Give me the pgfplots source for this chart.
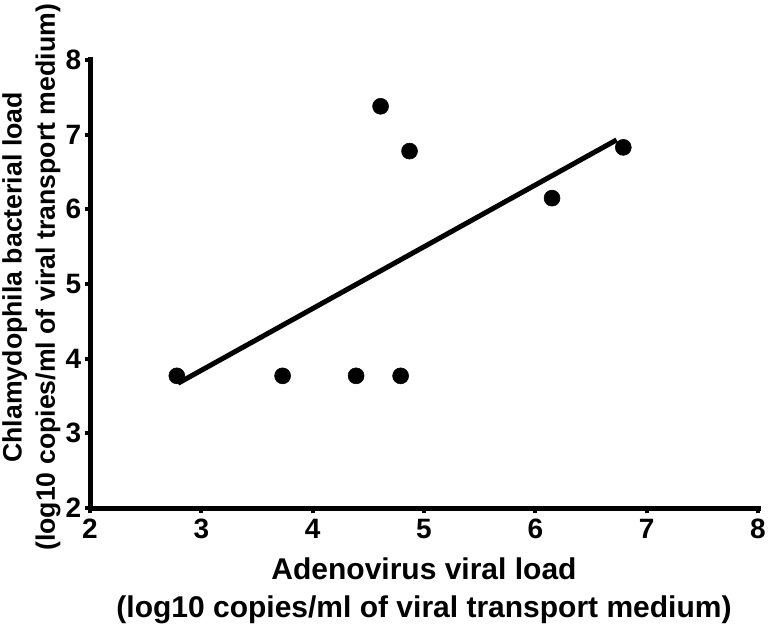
\documentclass[border=0pt]{standalone}
\usepackage{fontspec}
\setmainfont{Liberation Sans}
\usepackage{pgfplots}
\pgfplotsset{compat=1.18}

\begin{document}
\begin{tikzpicture}
  \begin{axis}[
      scale only axis,
      width=501pt,
      height=336pt,
      xmin=2, xmax=8,
      ymin=2, ymax=8,
      xtick={2,3,...,8},
      ytick={2,3,...,8},
      xticklabels={2,3,4,5,6,7,8},
      yticklabels={2,3,4,5,6,7,8},
      axis x line=bottom,
      axis y line=left,
      axis line style={-, line width=3.75pt, line cap=rect},
      tick align=outside,
      major tick length=4pt,
      tick style={line width=3pt, black},
      every tick label/.append style={font=\bfseries\fontsize{21}{24}\selectfont},
      xticklabel style={yshift=-1pt},
      yticklabel style={xshift=1pt},
      xlabel={Adenovirus viral load\\(log10 copies/ml of viral transport medium)},
      ylabel={Chlamydophila bacterial load\\(log10 copies/ml of viral transport medium)},
      xlabel style={font=\bfseries\fontsize{22.5}{28.5}\selectfont, align=center,
        inner sep=0pt, at={(axis description cs:0.5,0)}, anchor=north, yshift=-37pt},
      ylabel style={font=\bfseries\fontsize{20}{25}\selectfont, align=center,
        inner sep=0pt, at={(axis description cs:0,0.5)}, anchor=center,
        xshift=5pt, yshift=44pt},
      clip=false,
    ]
    % individual samples
    \addplot[only marks, mark=*, mark size=6pt, black] coordinates {
      (2.78,3.77) (3.73,3.77) (4.39,3.77) (4.79,3.77)
      (4.61,7.38) (4.87,6.78) (6.15,6.15) (6.79,6.83)
    };
    % regression line
    \addplot[black, line width=3.75pt, mark=none] coordinates {
      (2.79,3.67) (6.73,6.93)
    };
  \end{axis}
  \pgfresetboundingbox
  \path[use as bounding box]
    ([shift={(-67.5pt,-90pt)}]current axis.south west)
    rectangle ([shift={(7.5pt,45pt)}]current axis.north east);
\end{tikzpicture}
\end{document}
